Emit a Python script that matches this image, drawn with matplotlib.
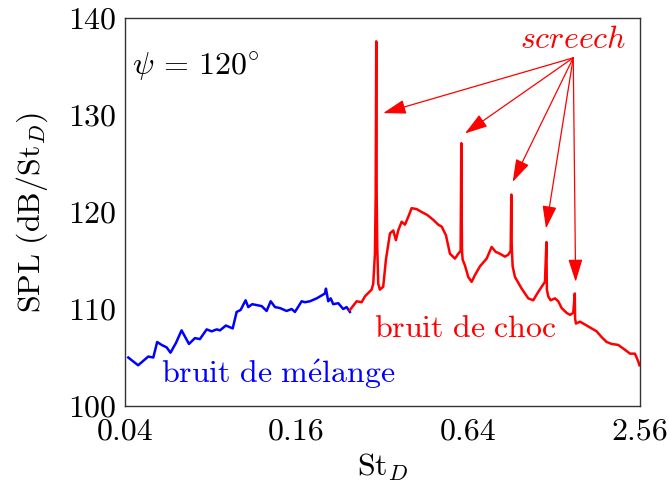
import numpy as np
import matplotlib
matplotlib.use('Agg')
import matplotlib.pyplot as plt

plt.rcParams['font.family'] = 'serif'
plt.rcParams['font.serif'] = ['cmr10', 'DejaVu Serif']
plt.rcParams['mathtext.fontset'] = 'cm'
plt.rcParams['axes.formatter.use_mathtext'] = True

# mixing noise (blue)
st_mix = [0.0411, 0.0445, 0.0483, 0.0503, 0.0519, 0.0538, 0.0560, 0.0578, 0.0604, 0.0632,
          0.0671, 0.0704, 0.0733, 0.0774, 0.0806, 0.0839, 0.0862, 0.0904, 0.0955, 0.0986,
          0.1018, 0.1060, 0.1083, 0.1118, 0.1207, 0.1256, 0.1298, 0.1344, 0.1399, 0.1476,
          0.1537, 0.1579, 0.1667, 0.1711, 0.1782, 0.1882, 0.1959, 0.2011, 0.2028, 0.2066,
          0.2107, 0.2151, 0.2240, 0.2332, 0.2396, 0.2461]
spl_mix = [105.0, 104.2, 105.1, 105.0, 106.6, 106.3, 106.05, 105.5, 106.5, 107.8,
           106.4, 107.0, 106.9, 107.9, 107.7, 107.9, 107.8, 108.3, 108.0, 109.7,
           109.9, 110.9, 110.2, 110.5, 110.3, 109.8, 110.8, 110.2, 110.1, 109.8,
           110.0, 109.7, 110.8, 110.7, 110.8, 111.1, 111.4, 111.6, 112.1, 110.8,
           111.1, 110.5, 110.6, 110.0, 110.2, 109.7]

# shock noise (red)
st_shock = [0.2461, 0.2599, 0.2706, 0.2778, 0.2932, 0.2971, 0.3012, 0.3030, 0.3044, 0.3055,
            0.3069, 0.3094, 0.3136, 0.3220, 0.3292, 0.3401, 0.3492, 0.3568, 0.3635, 0.3737,
            0.3838, 0.3942, 0.4051, 0.4220, 0.4393, 0.4595, 0.4823, 0.5021, 0.5163, 0.5345,
            0.5520, 0.5748, 0.5903, 0.6017, 0.6050, 0.6067, 0.6085, 0.6116, 0.6229, 0.6400,
            0.6576, 0.6755, 0.7033, 0.7424, 0.7728, 0.7983, 0.8264, 0.8605, 0.8839, 0.9012,
            0.9060, 0.9083, 0.9105, 0.9159, 0.9333, 0.9851, 1.0389, 1.0815, 1.1173, 1.1576,
            1.1888, 1.2030, 1.2053, 1.2075, 1.2211, 1.2449, 1.2889, 1.3236, 1.3605, 1.4163,
            1.4549, 1.4939, 1.5130, 1.5147, 1.5165, 1.5273, 1.5772, 1.6645, 1.7329, 1.8048,
            1.8791, 1.9565, 2.0374, 2.1484, 2.2676, 2.3618, 2.4587, 2.5251, 2.5500]
spl_shock = [109.9, 110.8, 110.7, 111.3, 112.0, 112.6, 115.7, 121.6, 137.6, 121.8,
             116.4, 112.6, 112.0, 112.3, 115.1, 117.8, 118.1, 117.1, 118.1, 119.0,
             118.7, 119.5, 120.4, 120.3, 120.0, 119.7, 119.2, 118.7, 118.5, 117.6,
             115.7, 115.2, 115.7, 116.0, 127.1, 120.0, 116.0, 115.1, 114.5, 113.3,
             112.8, 113.5, 114.4, 115.2, 116.4, 115.9, 115.7, 115.4, 115.6, 116.0,
             121.8, 117.0, 116.0, 114.4, 113.3, 112.1, 111.1, 110.9, 111.6, 112.3,
             112.8, 116.9, 114.0, 112.0, 111.3, 110.9, 111.1, 110.8, 110.1, 109.6,
             109.4, 109.6, 111.6, 110.0, 109.0, 108.5, 108.7, 108.3, 108.0, 107.7,
             107.1, 106.6, 106.4, 106.3, 105.8, 105.4, 105.4, 104.6, 104.2]

# screech arrows: start point and tips
screech_src = (1.494, 135.9)
screech_tips = [(0.322, 130.2), (0.623, 128.1), (0.916, 123.1), (1.199, 118.3), (1.523, 112.8)]

xticks = [0.04, 0.16, 0.64, 2.56]
xticklabels = ['0.04', '0.16', '0.64', '2.56']
yticks = [100, 110, 120, 130, 140]

fs = 23

fig = plt.figure(figsize=(6.68, 4.88), dpi=100)
ax = fig.add_axes([0.187, 0.168, 0.771, 0.795])

ax.plot(st_mix, spl_mix, color='blue', lw=1.8)
ax.plot(st_shock, spl_shock, color='red', lw=1.8)

for tip in screech_tips:
    ax.annotate('', xy=tip, xytext=screech_src,
                arrowprops=dict(arrowstyle='-|>,head_length=0.7,head_width=0.22',
                                color='red', lw=0.9, shrinkA=0, shrinkB=0, mutation_scale=20))

ax.set_xscale('log', base=2)
ax.set_xlim(0.04, 2.56)
ax.set_ylim(100, 140)
ax.set_xticks(xticks)
ax.set_xticklabels(xticklabels)
ax.minorticks_off()
ax.set_yticks(yticks)
ax.tick_params(length=0, labelsize=fs)
ax.tick_params(axis='x', pad=9)
ax.tick_params(axis='y', pad=6)
for s in ax.spines.values():
    s.set_linewidth(1.0)
    s.set_color('#333333')

ax.set_xlabel(r'$\mathrm{St}_D$', fontsize=fs, labelpad=4)
ax.set_ylabel(r'$\mathrm{SPL\ (dB/St}_D\mathrm{)}$', fontsize=fs, labelpad=13)

ax.text(0.0425, 135.0, r'$\psi\,=\,120^{\circ}$', fontsize=fs, va='center', ha='left')
ax.text(1.494, 137.7, r'$\mathit{screech}$', fontsize=fs, color='red', va='center', ha='center')
ax.text(0.625, 107.9, r'$\mathrm{bruit\ de\ choc}$', fontsize=fs, color='red', va='center', ha='center')
ax.text(0.138, 103.3, r'$\mathrm{bruit\ de\ m\acute{e}lange}$', fontsize=fs, color='blue',
        va='center', ha='center')

fig.savefig('out.png', dpi=100)
